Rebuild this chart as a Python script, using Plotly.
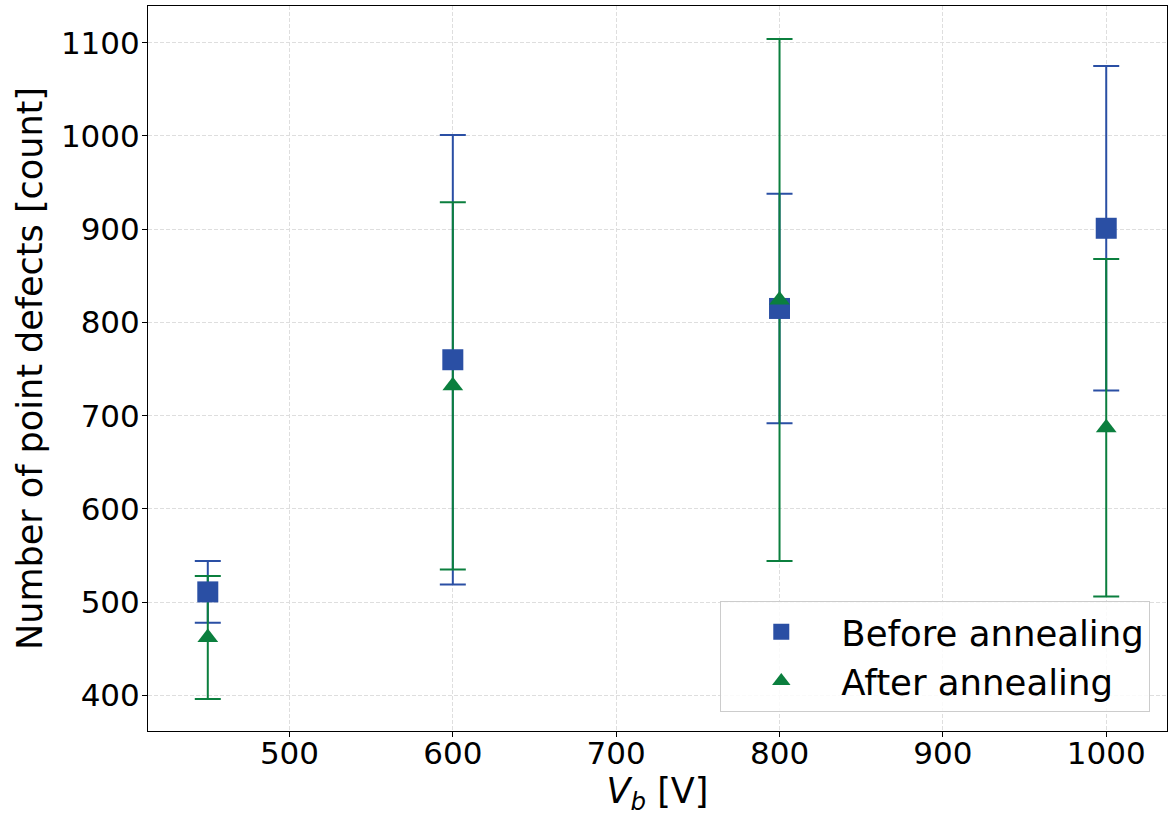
import plotly.graph_objects as go

vb = [450, 600, 800, 1000]
before_vals = [511, 760, 815, 901]
before_err = [33, 241, 123, 174]
after_vals = [462, 732, 824, 687]
after_err = [66, 197, 280, 181]

BLUE = "#2a4fa4"
GREEN = "#0b7f3e"
FONT = "DejaVu Sans, Liberation Sans, sans-serif"

fig = go.Figure()
# error bars first (drawn beneath markers)
fig.add_trace(go.Scatter(x=vb, y=before_vals, mode="markers",
                         marker=dict(size=0.1, color=BLUE, opacity=0),
                         error_y=dict(type="data", array=before_err, visible=True,
                                      color=BLUE, thickness=2, width=13),
                         showlegend=False, hoverinfo="skip"))
fig.add_trace(go.Scatter(x=vb, y=after_vals, mode="markers",
                         marker=dict(size=0.1, color=GREEN, opacity=0),
                         error_y=dict(type="data", array=after_err, visible=True,
                                      color=GREEN, thickness=2, width=13),
                         showlegend=False, hoverinfo="skip"))
fig.add_trace(go.Scatter(x=vb, y=before_vals, mode="markers", name="Before annealing",
                         marker=dict(symbol="square", size=21, color=BLUE)))
fig.add_trace(go.Scatter(x=vb, y=after_vals, mode="markers", name="After annealing",
                         marker=dict(symbol="triangle-up", size=18, color=GREEN)))

axis_common = dict(
    showline=True, linecolor="black", linewidth=1, mirror=True,
    ticks="outside", ticklen=5, tickwidth=1, tickcolor="black",
    showgrid=True, gridcolor="#dedede", griddash="4px,2px", gridwidth=1,
    zeroline=False, automargin=False,
    tickfont=dict(family=FONT, size=31, color="black"),
)

fig.update_layout(
    width=1169, height=816,
    margin=dict(l=148, r=2, t=6, b=85),
    paper_bgcolor="white", plot_bgcolor="white",
    font=dict(family=FONT, color="black"),
    xaxis=dict(range=[413.4, 1037.2], tickvals=[500, 600, 700, 800, 900, 1000],
               ticklabelstandoff=-10,
               title=dict(text="<i>V</i><sub><i>b</i></sub> [V]",
                          font=dict(family=FONT, size=35), standoff=14),
               **axis_common),
    yaxis=dict(range=[361.8, 1139.4], tickvals=[400, 500, 600, 700, 800, 900, 1000, 1100],
               ticklabelstandoff=-4,
               title=dict(text="Number of point defects [count]",
                          font=dict(family=FONT, size=35), standoff=7),
               **axis_common),
    legend=dict(x=0.9836, y=0.0258, xanchor="right", yanchor="bottom",
                itemwidth=110,
                bgcolor="rgba(255,255,255,0.85)", bordercolor="#cccccc", borderwidth=1,
                font=dict(family=FONT, size=35.5, color="black")),
)

fig.write_html("out.html",
               config={"displayModeBar": False},
               post_script="document.body.style.margin='0';document.body.style.overflow='hidden';")
